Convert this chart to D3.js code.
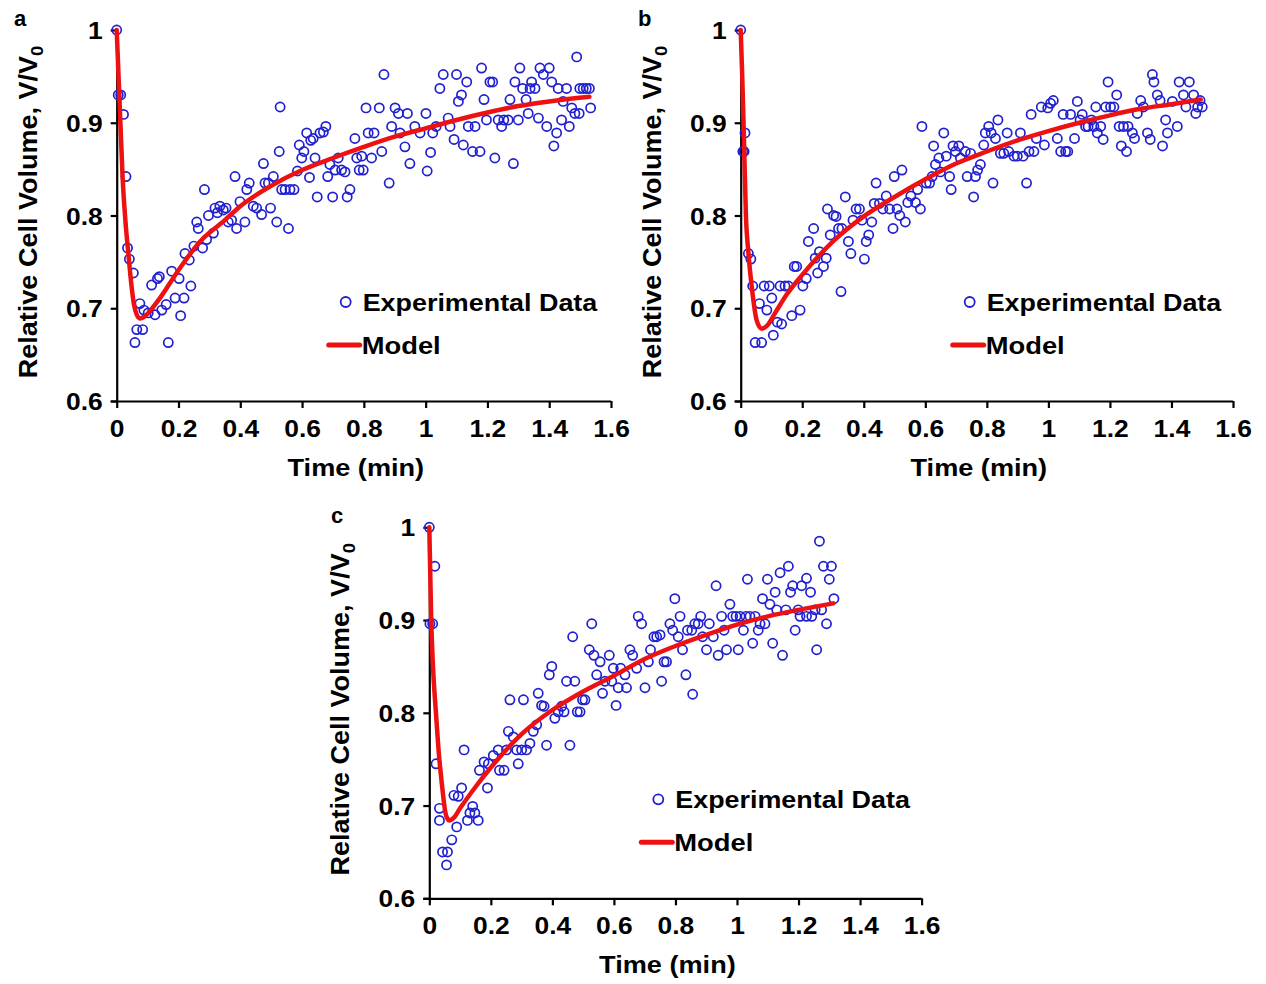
<!DOCTYPE html>
<html><head><meta charset="utf-8">
<script src="https://cdn.jsdelivr.net/npm/d3@7"></script>
<style>
html,body{margin:0;padding:0;background:#fff;}
svg{display:block;}
text{font-family:"Liberation Sans",Arial,sans-serif;font-weight:bold;fill:#000;}
</style></head>
<body>
<svg id="chart" width="1266" height="984"></svg>
<script>
// ---------- DATA ----------
const xTicks = [0, 0.2, 0.4, 0.6, 0.8, 1, 1.2, 1.4, 1.6];
const yTicks = [0.6, 0.7, 0.8, 0.9, 1];
const panelLabels = ["a", "b", "c"];
const xTitle = "Time (min)";
const yTitleMain = "Relative Cell Volume, V/V";
const yTitleSub = "0";
const legendLabels = ["Experimental Data", "Model"];

const expA = [[0,1.0],[0.005,0.93],[0.013,0.93],[0.022,0.909],[0.03,0.842],[0.035,0.765],[0.041,0.753],[0.054,0.738],[0.059,0.663],[0.065,0.677],[0.075,0.705],[0.084,0.677],[0.088,0.698],[0.102,0.695],[0.113,0.725],[0.124,0.693],[0.132,0.732],[0.138,0.734],[0.146,0.698],[0.16,0.704],[0.167,0.663],[0.178,0.74],[0.189,0.711],[0.202,0.732],[0.207,0.692],[0.218,0.711],[0.221,0.759],[0.235,0.752],[0.24,0.724],[0.25,0.767],[0.259,0.793],[0.264,0.786],[0.278,0.765],[0.284,0.828],[0.291,0.774],[0.297,0.8],[0.313,0.781],[0.318,0.808],[0.326,0.803],[0.334,0.81],
[0.345,0.806],[0.354,0.808],[0.361,0.793],[0.372,0.795],[0.383,0.842],[0.388,0.786],[0.399,0.815],[0.415,0.793],[0.421,0.828],[0.429,0.835],[0.442,0.81],[0.453,0.808],[0.469,0.801],[0.475,0.856],[0.48,0.835],[0.491,0.835],[0.498,0.808],[0.507,0.842],[0.518,0.793],[0.526,0.869],[0.529,0.917],[0.534,0.828],[0.545,0.828],[0.556,0.786],[0.561,0.828],[0.574,0.828],[0.585,0.848],[0.591,0.876],[0.599,0.862],[0.606,0.869],[0.615,0.889],[0.624,0.841],[0.628,0.881],[0.636,0.883],[0.642,0.862],[0.649,0.82],[0.658,0.889],[0.669,0.89],[0.677,0.896],[0.683,0.842],[0.69,0.855],[0.699,0.82],[0.707,0.849],[0.717,0.862],[0.728,0.849],[0.739,0.847],[0.746,0.82],[0.755,0.828],[0.771,0.883],[0.777,0.862],[0.785,0.849],
[0.793,0.864],[0.798,0.849],[0.807,0.916],[0.814,0.889],[0.825,0.862],[0.833,0.889],[0.85,0.916],[0.858,0.869],[0.865,0.952],[0.882,0.835],[0.89,0.896],[0.901,0.916],[0.912,0.91],[0.917,0.889],[0.933,0.874],[0.941,0.91],[0.949,0.856],[0.965,0.896],[0.982,0.889],[1.001,0.91],[1.005,0.848],[1.016,0.868],[1.023,0.889],[1.034,0.896],[1.046,0.937],[1.057,0.952],[1.073,0.905],[1.079,0.896],[1.092,0.882],[1.1,0.952],[1.106,0.923],[1.116,0.93],[1.122,0.876],[1.133,0.944],[1.138,0.896],[1.152,0.869],[1.16,0.896],[1.176,0.869],[1.181,0.959],[1.189,0.925],[1.197,0.903],[1.208,0.944],[1.217,0.944],[1.224,0.862],[1.235,0.903],[1.246,0.896],[1.253,0.903],[1.267,0.903],[1.273,0.925],[1.284,0.856],[1.289,0.944],[1.3,0.903],[1.305,0.959],[1.314,0.937],[1.325,0.925],[1.332,0.91],[1.338,0.937],[1.343,0.944],[1.354,0.937],[1.365,0.905],[1.37,0.959],[1.381,0.952],[1.392,0.896],[1.4,0.959],[1.408,0.944],[1.415,0.875],[1.424,0.889],[1.429,0.937],[1.44,0.903],[1.445,0.923],[1.456,0.937],[1.465,0.896],[1.473,0.916],[1.483,0.91],[1.489,0.971],[1.497,0.91],[1.499,0.937],[1.51,0.937],[1.52,0.937],[1.53,0.937],[1.534,0.916]];

const modelA = [[0,1.0],[0.006,0.95],[0.012,0.9],[0.019,0.842],[0.028,0.795],[0.038,0.758],[0.047,0.727],[0.056,0.704],[0.065,0.693],[0.075,0.689],[0.09,0.691],[0.11,0.698],[0.14,0.711],[0.2,0.741],[0.27,0.772],[0.35,0.795],[0.4,0.81],[0.5,0.832],[0.6,0.849],[0.7,0.862],[0.8,0.874],[0.9,0.885],[1.0,0.894],[1.1,0.903],[1.2,0.911],[1.3,0.918],[1.4,0.923],[1.53,0.928]];

const expB = [[0,1.0],[0.007,0.869],[0.011,0.869],[0.014,0.889],[0.025,0.759],[0.033,0.753],[0.039,0.724],[0.047,0.663],[0.061,0.705],[0.068,0.663],[0.076,0.724],[0.085,0.698],[0.093,0.724],[0.101,0.711],[0.106,0.671],[0.119,0.685],[0.128,0.724],[0.133,0.683],[0.144,0.724],[0.155,0.724],[0.166,0.692],[0.174,0.745],[0.182,0.745],[0.193,0.698],[0.202,0.724],[0.213,0.732],[0.22,0.772],[0.237,0.786],[0.242,0.754],[0.25,0.738],[0.256,0.761],[0.269,0.745],[0.278,0.754],[0.282,0.807],[0.291,0.779],[0.302,0.8],[0.31,0.799],[0.318,0.786],[0.326,0.718],[0.329,0.786],[0.34,0.82],[0.35,0.772],[0.358,0.759],[0.365,0.795],[0.375,0.807],[0.386,0.807],[0.394,0.795],[0.402,0.753],[0.408,0.772],[0.416,0.779],[0.426,0.793],[0.434,0.813],[0.44,0.835],[0.451,0.813],[0.462,0.807],[0.473,0.821],[0.484,0.807],[0.495,0.786],[0.499,0.842],[0.508,0.807],[0.517,0.8],[0.524,0.849],[0.535,0.793],[0.543,0.814],[0.553,0.821],[0.568,0.814],[0.575,0.828],[0.584,0.807],[0.589,0.896],[0.603,0.835],[0.614,0.835],[0.622,0.842],[0.627,0.875],[0.633,0.855],[0.644,0.862],[0.649,0.847],[0.66,0.889],[0.668,0.864],[0.679,0.842],[0.684,0.828],[0.69,0.875],[0.698,0.869],[0.709,0.875],[0.714,0.862],[0.73,0.869],[0.736,0.842],
[0.747,0.867],[0.757,0.82],[0.763,0.842],[0.77,0.849],[0.779,0.855],[0.79,0.876],[0.795,0.889],[0.806,0.896],[0.814,0.889],[0.82,0.835],[0.828,0.883],[0.836,0.903],[0.844,0.867],[0.855,0.867],[0.866,0.889],[0.871,0.869],[0.888,0.864],[0.899,0.864],[0.909,0.889],[0.918,0.864],[0.929,0.835],[0.937,0.869],[0.944,0.909],[0.953,0.869],[0.961,0.883],[0.977,0.917],[0.987,0.876],[0.998,0.916],[1.007,0.921],[1.016,0.924],[1.029,0.883],[1.04,0.869],[1.048,0.909],[1.056,0.869],[1.063,0.869],[1.072,0.909],[1.085,0.883],[1.094,0.923],[1.103,0.903],[1.11,0.909],[1.121,0.896],[1.129,0.896],[1.14,0.903],[1.148,0.896],[1.154,0.917],[1.159,0.889],[1.17,0.896],[1.178,0.882],[1.186,0.917],[1.194,0.944],[1.202,0.917],[1.213,0.917],[1.222,0.93],[1.23,0.896],[1.237,0.875],[1.244,0.896],[1.254,0.869],[1.259,0.896],[1.273,0.889],[1.28,0.883],[1.289,0.91],[1.3,0.924],[1.309,0.917],[1.322,0.889],[1.331,0.882],[1.338,0.952],[1.343,0.944],[1.354,0.93],[1.363,0.924],[1.371,0.875],[1.381,0.903],[1.387,0.889],[1.403,0.923],[1.419,0.896],[1.425,0.944],[1.439,0.93],[1.447,0.917],[1.458,0.944],[1.472,0.93],[1.479,0.91],[1.485,0.917],[1.493,0.924],[1.5,0.917]];

const modelB = [[0,1.0],[0.005,0.95],[0.01,0.89],[0.017,0.8],[0.025,0.76],[0.036,0.723],[0.052,0.687],[0.068,0.678],[0.085,0.681],[0.112,0.695],[0.15,0.715],[0.2,0.736],[0.3,0.772],[0.4,0.799],[0.5,0.82],[0.6,0.839],[0.7,0.856],[0.8,0.869],[0.9,0.881],[1.0,0.891],[1.1,0.9],[1.2,0.908],[1.3,0.915],[1.4,0.92],[1.495,0.925]];

const expC = [[0,1.0],[0.018,0.958],[0.002,0.896],[0.011,0.896],[0.022,0.745],[0.033,0.697],[0.033,0.684],[0.043,0.65],[0.059,0.65],[0.056,0.636],[0.073,0.663],[0.089,0.677],[0.08,0.711],[0.094,0.71],[0.105,0.719],[0.113,0.76],[0.124,0.684],[0.132,0.692],[0.141,0.699],[0.148,0.692],[0.159,0.684],[0.163,0.738],[0.178,0.747],[0.189,0.719],[0.192,0.745],[0.208,0.754],[0.224,0.76],[0.228,0.738],[0.243,0.738],[0.251,0.76],[0.257,0.78],[0.262,0.814],[0.273,0.774],[0.284,0.76],[0.289,0.745],[0.3,0.76],[0.306,0.814],[0.316,0.76],[0.327,0.767],[0.338,0.78],[0.349,0.787],[0.354,0.821],[0.365,0.808],[0.373,0.807],[0.381,0.765],[0.39,0.841],[0.398,0.85],[0.408,0.794],[0.419,0.801],[0.43,0.807],[0.438,0.801],[0.446,0.834],[0.457,0.765],[0.466,0.882],[0.473,0.834],[0.481,0.801],[0.49,0.801],[0.498,0.814],[0.506,0.814],[0.52,0.868],[0.528,0.896],[0.535,0.862],[0.544,0.841],[0.555,0.855],[0.563,0.821],[0.571,0.834],[0.585,0.862],[0.593,0.834],[0.598,0.848],[0.607,0.808],[0.614,0.827],[0.622,0.848],[0.636,0.841],[0.641,0.827],[0.652,0.868],[0.661,0.862],[0.674,0.848],[0.679,0.904],[0.69,0.896],[0.701,0.827],[0.712,0.855],[0.719,0.868],[0.73,0.882],[0.739,0.882],
[0.75,0.884],[0.755,0.834],[0.763,0.855],[0.771,0.855],[0.782,0.896],[0.791,0.889],[0.798,0.923],[0.809,0.882],[0.815,0.904],[0.823,0.868],[0.834,0.841],[0.839,0.889],[0.853,0.889],[0.856,0.82],[0.863,0.896],[0.874,0.896],[0.882,0.904],[0.888,0.882],[0.901,0.868],[0.91,0.896],[0.923,0.882],[0.932,0.937],[0.939,0.862],[0.95,0.904],[0.958,0.889],[0.966,0.868],[0.977,0.917],[0.986,0.904],[0.997,0.904],[1.004,0.868],[1.01,0.904],[1.021,0.889],[1.029,0.904],[1.034,0.944],[1.042,0.904],[1.051,0.875],[1.059,0.904],[1.069,0.889],[1.075,0.896],[1.083,0.923],[1.091,0.896],[1.099,0.944],[1.107,0.917],[1.116,0.875],[1.124,0.93],[1.129,0.911],[1.14,0.951],[1.148,0.862],[1.159,0.911],[1.167,0.958],[1.174,0.93],[1.181,0.937],[1.189,0.889],[1.199,0.911],[1.205,0.904],[1.21,0.937],[1.226,0.945],[1.226,0.904],[1.239,0.93],[1.243,0.904],[1.254,0.911],[1.259,0.868],[1.268,0.985],[1.275,0.911],[1.281,0.958],[1.291,0.896],[1.3,0.944],[1.307,0.958],[1.315,0.923]];

const modelC = [[0,1.0],[0.0065,0.896],[0.012,0.85],[0.022,0.798],[0.03,0.76],[0.04,0.726],[0.054,0.69],[0.065,0.684],[0.08,0.687],[0.1,0.697],[0.15,0.72],[0.2,0.741],[0.3,0.777],[0.4,0.803],[0.5,0.823],[0.6,0.84],[0.7,0.858],[0.8,0.872],[0.9,0.884],[1.0,0.895],[1.1,0.904],[1.2,0.911],[1.313,0.918]];

// ---------- LAYOUT ----------
const panels = [
  {label: panelLabels[0], exp: expA, model: modelA, x0: 116.7, x1: 611, yTop: 30, yBot: 401, labelX: 14, labelY: 26},
  {label: panelLabels[1], exp: expB, model: modelB, x0: 740.7, x1: 1233, yTop: 30, yBot: 401, labelX: 638, labelY: 26},
  {label: panelLabels[2], exp: expC, model: modelC, x0: 429.3, x1: 921.6, yTop: 527.3, yBot: 898.3, labelX: 331, labelY: 523}
];

const BLUE = "#2020d0", RED = "#ee1111";
const FONT = '"Liberation Sans",Arial,sans-serif';
const svg = d3.select("#chart");

// widen text horizontally like the reference glyphs
function widen(sel, f) {
  sel.each(function() {
    const w = this.getComputedTextLength();
    d3.select(this).attr("textLength", w * f).attr("lengthAdjust", "spacingAndGlyphs");
  });
}

panels.forEach(p => {
  const x = d3.scaleLinear().domain([0, 1.6]).range([p.x0, p.x1]);
  const y = d3.scaleLinear().domain([0.6, 1]).range([p.yBot, p.yTop]);
  const g = svg.append("g");

  const fmt = d => String(+d.toFixed(1));
  const xAxis = d3.axisBottom(x).tickValues(xTicks).tickSize(6).tickFormat(fmt);
  const yAxis = d3.axisLeft(y).tickValues(yTicks).tickSize(6).tickFormat(fmt);

  const gx = g.append("g").attr("transform", `translate(0,${p.yBot})`).call(xAxis);
  const gy = g.append("g").attr("transform", `translate(${p.x0},0)`).call(yAxis);
  [gx, gy].forEach(a => {
    a.select(".domain").attr("stroke", "#000").attr("stroke-width", 2.2);
    a.selectAll(".tick line").attr("stroke", "#000").attr("stroke-width", 2.2);
    a.selectAll(".tick text").style("font-family", FONT)
      .style("font-weight", "bold").style("font-size", "24px").attr("fill", "#000");
  });
  gx.select(".domain").attr("d", `M${p.x0 - 6},0.5H${p.x1}`);
  gx.selectAll(".tick line").attr("y2", 7);
  gy.select(".domain").attr("d", `M0.5,${p.yBot}V${p.yTop}`);
  gx.selectAll(".tick text").attr("dy", "0.71em").attr("y", 19);
  gy.selectAll(".tick text").attr("x", -14).attr("dy", "0.36em");
  widen(gx.selectAll(".tick text"), 1.1);
  widen(gy.selectAll(".tick text"), 1.1);

  // scatter
  g.append("g").selectAll("circle").data(p.exp).join("circle")
    .attr("cx", d => x(d[0])).attr("cy", d => y(d[1])).attr("r", 4.6)
    .attr("fill", "none").attr("stroke", BLUE).attr("stroke-width", 1.7);

  // model line
  const line = d3.line().x(d => x(d[0])).y(d => y(d[1])).curve(d3.curveMonotoneX);
  g.append("path").datum(p.model).attr("d", line)
    .attr("fill", "none").attr("stroke", RED).attr("stroke-width", 4.5)
    .attr("stroke-linecap", "round").attr("stroke-linejoin", "round");

  // axis titles
  const xt = g.append("text").attr("x", (p.x0 + p.x1) / 2 - 8).attr("y", p.yBot + 75)
    .attr("text-anchor", "middle").style("font-size", "24px").text(xTitle);
  widen(xt, 1.13);
  const yt = g.append("text")
    .attr("transform", `translate(${p.x0 - 80},${p.yTop + 182}) rotate(-90)`)
    .attr("text-anchor", "middle").style("font-size", "25px");
  yt.append("tspan").text(yTitleMain);
  yt.append("tspan").attr("dy", 6).style("font-size", "17px").text(yTitleSub);
  widen(yt, 1.08);

  // panel label
  g.append("text").attr("x", p.labelX).attr("y", p.labelY).style("font-size", "22px").text(p.label);

  // legend
  const lx = p.x0 + 229, ly = p.yTop + 272;
  g.append("circle").attr("cx", lx).attr("cy", ly).attr("r", 5)
    .attr("fill", "none").attr("stroke", BLUE).attr("stroke-width", 1.8);
  const l1 = g.append("text").attr("x", lx + 17).attr("y", ly + 9).style("font-size", "24px").text(legendLabels[0]);
  widen(l1, 1.12);
  g.append("line").attr("x1", lx - 17).attr("x2", lx + 14).attr("y1", ly + 43).attr("y2", ly + 43)
    .attr("stroke", RED).attr("stroke-width", 5).attr("stroke-linecap", "round");
  const l2 = g.append("text").attr("x", lx + 16).attr("y", ly + 52).style("font-size", "24px").text(legendLabels[1]);
  widen(l2, 1.14);
});
</script>
</body></html>
